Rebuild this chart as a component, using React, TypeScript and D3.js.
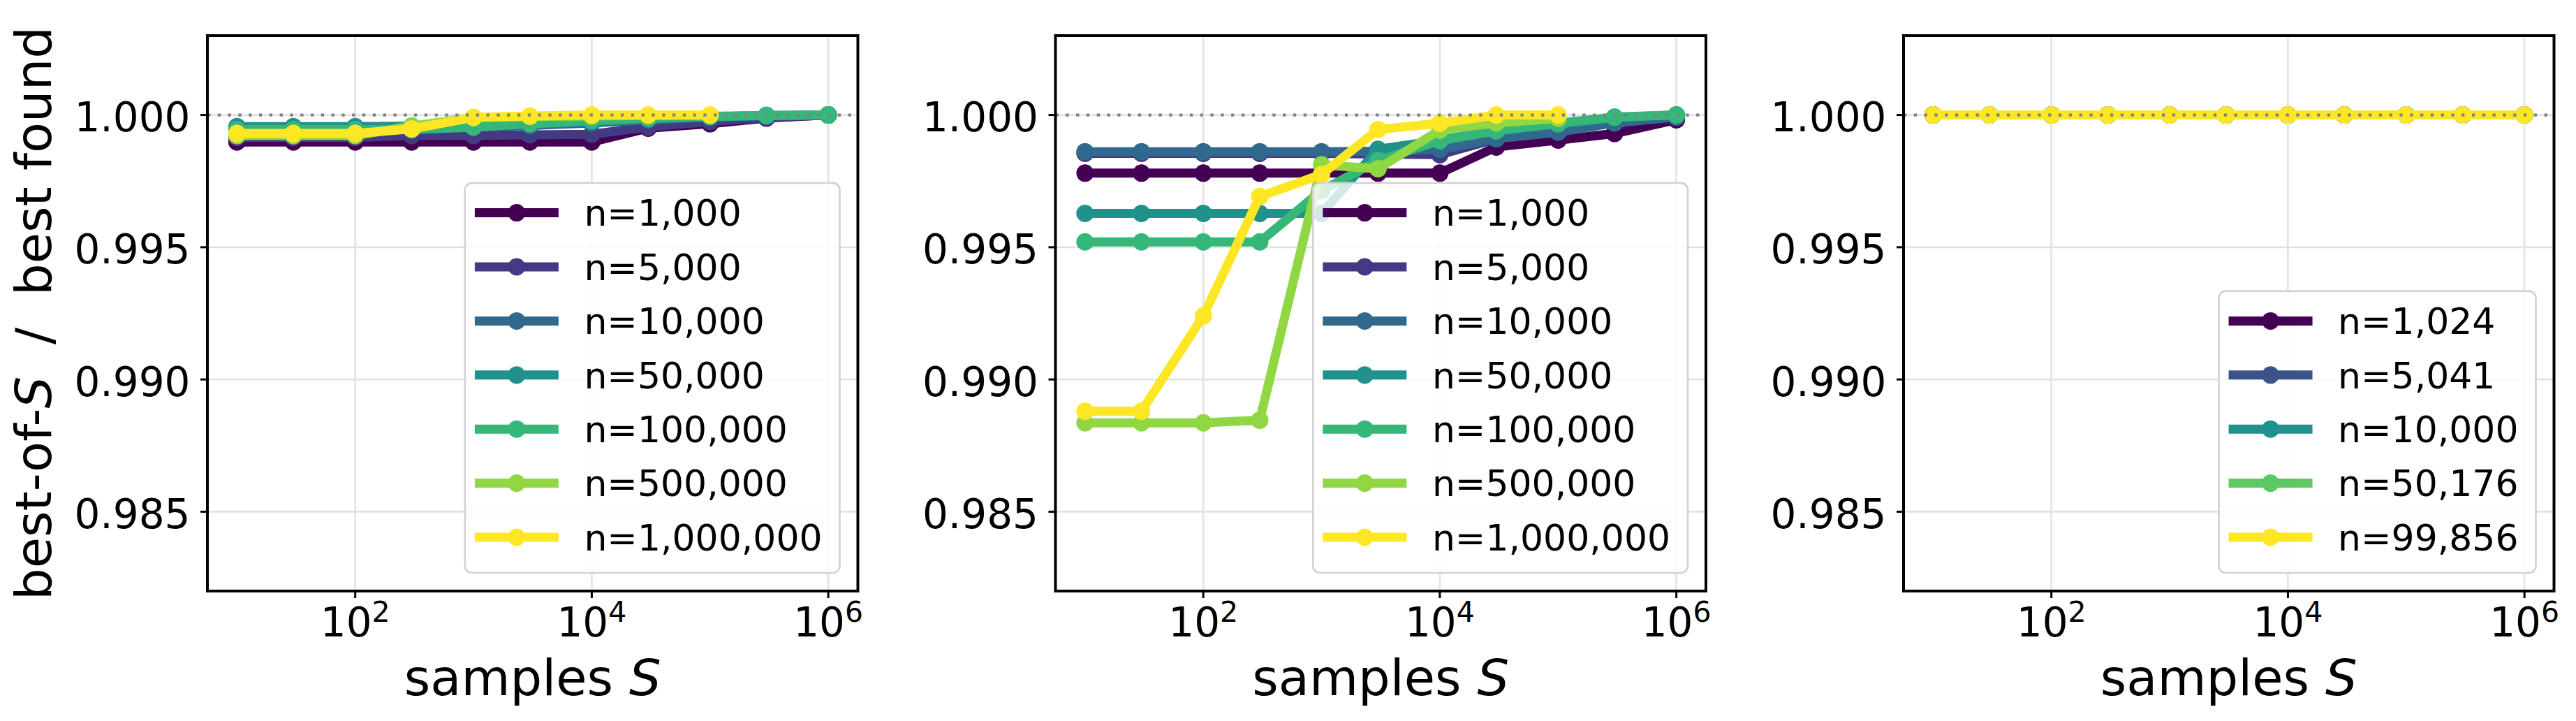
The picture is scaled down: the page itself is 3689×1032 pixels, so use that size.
import React from 'react';
import * as d3 from 'd3';

// ---------------- data ----------------
const SAMPLES = [10, 30, 100, 300, 1000, 3000, 10000, 30000, 100000, 300000, 1000000];
const Y_TICKS = [0.985, 0.99, 0.995, 1.0];
const X_TICK_EXP = [2, 4, 6];
const Y_DOMAIN = [0.982, 1.003];
const X_DOMAIN_LOG = [0.75, 6.25];

const LABELS_A = ['n=1,000', 'n=5,000', 'n=10,000', 'n=50,000', 'n=100,000', 'n=500,000', 'n=1,000,000'];
const LABELS_C = ['n=1,024', 'n=5,041', 'n=10,000', 'n=50,176', 'n=99,856'];

// panel 1
const P1_N1000 = [0.99898, 0.99898, 0.99898, 0.99898, 0.99898, 0.99898, 0.99898, 0.9995, 0.99967, 0.99988, 1.0];
const P1_N5000 = [0.99915, 0.99915, 0.99915, 0.99922, 0.99922, 0.99925, 0.99927, 0.99955, 0.99975, 0.9999, 1.0];
const P1_N10000 = [0.9995, 0.9995, 0.9995, 0.99952, 0.99955, 0.9996, 0.9997, 0.99982, 0.99992, 0.99996, 1.0];
const P1_N50000 = [0.99956, 0.99956, 0.99956, 0.99958, 0.9996, 0.99965, 0.99975, 0.99985, 0.99993, 0.99998, 1.0];
const P1_N100000 = [0.99945, 0.99945, 0.99945, 0.99945, 0.99954, 0.99967, 0.9998, 0.99988, 0.99995, 0.99998, 1.0];
const P1_N500000 = [0.99922, 0.99922, 0.99922, 0.99958, 0.9999, 0.99994, 0.99996, 0.99998, 0.99999];
const P1_N1000000 = [0.9993, 0.9993, 0.9993, 0.99947, 0.99991, 0.99996, 1.0, 1.0, 1.0];

// panel 2
const P2_N1000 = [0.9978, 0.9978, 0.9978, 0.9978, 0.9978, 0.9978, 0.9978, 0.99879, 0.99905, 0.9993, 0.99982];
const P2_N5000 = [0.99855, 0.99855, 0.99855, 0.99855, 0.99855, 0.99852, 0.9985, 0.9991, 0.99945, 0.9997, 0.99995];
const P2_N10000 = [0.99861, 0.99861, 0.99861, 0.99861, 0.99861, 0.99863, 0.9987, 0.9991, 0.99935, 0.9997, 0.99992];
const P2_N50000 = [0.99628, 0.99628, 0.99628, 0.99628, 0.99628, 0.9987, 0.99905, 0.9994, 0.99965, 0.9999, 1.0];
const P2_N100000 = [0.9952, 0.9952, 0.9952, 0.9952, 0.99714, 0.99828, 0.99903, 0.9994, 0.99969, 0.99992, 1.0];
const P2_N500000 = [0.98836, 0.98836, 0.98836, 0.98846, 0.99811, 0.99797, 0.99943, 0.9997, 0.99987];
const P2_N1000000 = [0.9888, 0.9888, 0.9924, 0.99692, 0.99775, 0.99945, 0.99969, 1.0, 1.0];

// panel 3
const P3_N1024 = [1, 1, 1, 1, 1, 1, 1, 1, 1, 1, 1];
const P3_N5041 = [1, 1, 1, 1, 1, 1, 1, 1, 1, 1, 1];
const P3_N10000 = [1, 1, 1, 1, 1, 1, 1, 1, 1, 1, 1];
const P3_N50176 = [1, 1, 1, 1, 1, 1, 1, 1, 1, 1, 1];
const P3_N99856 = [1, 1, 1, 1, 1, 1, 1, 1, 1, 1, 1];

// ---------------- layout ----------------
const W = 3689;
const H = 1032;
const TOP = 51;
const BOTTOM = 846;
const PW = 931.5;
const LEFTS = [297, 1511.5, 2726];
const FONT = "'DejaVu Sans', sans-serif";
const TICK_FS = 58;
const LABEL_FS = 72;
const LEG_FS = 52;
const LW = 13;
const MR = 12.5;

function charW(c: string) {
  if (c === 'n') return 0.634;
  if (c === '=') return 0.838;
  if (c === ',') return 0.318;
  return 0.636;
}
function textW(s: string, fs: number) {
  return Array.from(s).reduce((a, c) => a + charW(c), 0) * fs;
}

type PanelProps = { idx: number; left: number; series: number[][]; labels: string[]; showYLabel: boolean };

function Panel({ idx, left, series, labels, showYLabel }: PanelProps) {
  const x = d3.scaleLog().domain([10 ** X_DOMAIN_LOG[0], 10 ** X_DOMAIN_LOG[1]]).range([left, left + PW]);
  const y = d3.scaleLinear().domain(Y_DOMAIN).range([BOTTOM, TOP]);
  const k = series.length;
  const color = (i: number) => d3.interpolateViridis(k === 1 ? 0 : i / (k - 1));
  const line = d3
    .line<number>()
    .x((_, i) => x(SAMPLES[i]))
    .y((v) => y(v));
  const clipId = `clip${idx}`;

  const maxTW = Math.max(...labels.map((l) => textW(l, LEG_FS)));
  const boxW = 170.5 + maxTW + 25;
  const boxH = 93.8 + (k - 1) * 77.4;
  const boxX = left + PW - 26 - boxW;
  const boxY = BOTTOM - 26 - boxH;
  const cx = left + PW / 2;

  return (
    <g>
      <defs>
        <clipPath id={clipId}>
          <rect x={left} y={TOP} width={PW} height={BOTTOM - TOP} />
        </clipPath>
      </defs>
      {/* grid */}
      <g stroke="#e3e3e3" strokeWidth={2.7}>
        {X_TICK_EXP.map((e) => (
          <line key={'gx' + e} x1={x(10 ** e)} x2={x(10 ** e)} y1={TOP} y2={BOTTOM} />
        ))}
        {Y_TICKS.map((t) => (
          <line key={'gy' + t} x1={left} x2={left + PW} y1={y(t)} y2={y(t)} />
        ))}
      </g>
      {/* series */}
      <g clipPath={`url(#${clipId})`}>
        {series.map((s, i) => (
          <g key={i}>
            <path d={line(s) || ''} fill="none" stroke={color(i)} strokeWidth={LW} strokeLinejoin="round" strokeLinecap="butt" />
            {s.map((v, j) => (
              <circle key={j} cx={x(SAMPLES[j])} cy={y(v)} r={MR} fill={color(i)} />
            ))}
          </g>
        ))}
        <line x1={left} x2={left + PW} y1={y(1)} y2={y(1)} stroke="#808080" strokeWidth={4.3} strokeDasharray="4.3 10.5" />
      </g>
      {/* spines */}
      <rect x={left} y={TOP} width={PW} height={BOTTOM - TOP} fill="none" stroke="#000" strokeWidth={4} />
      {/* y ticks */}
      {Y_TICKS.map((t) => (
        <g key={'yt' + t}>
          <line x1={left - 10} x2={left} y1={y(t)} y2={y(t)} stroke="#000" strokeWidth={3} />
          <text x={left - 24.5} y={y(t) + 23.5} textAnchor="end" fontSize={TICK_FS} fontFamily={FONT}>
            {t.toFixed(3)}
          </text>
        </g>
      ))}
      {/* x ticks */}
      {X_TICK_EXP.map((e) => (
        <g key={'xt' + e}>
          <line x1={x(10 ** e)} x2={x(10 ** e)} y1={BOTTOM} y2={BOTTOM + 10} stroke="#000" strokeWidth={3} />
          <text x={x(10 ** e)} y={911} textAnchor="middle" fontSize={TICK_FS} fontFamily={FONT}>
            10
            <tspan dy={-21} fontSize={41}>
              {e}
            </tspan>
          </text>
        </g>
      ))}
      {/* x label */}
      <text x={cx} y={995} textAnchor="middle" fontSize={LABEL_FS} fontFamily={FONT} style={{ whiteSpace: 'pre' }}>
        {'samples '}
        <tspan fontStyle="italic">S</tspan>
      </text>
      {showYLabel && (
        <text
          transform={`translate(73, ${(TOP + BOTTOM) / 2}) rotate(-90)`}
          textAnchor="middle"
          fontSize={LABEL_FS}
          fontFamily={FONT}
          style={{ whiteSpace: 'pre' }}
        >
          {'best-of-'}
          <tspan fontStyle="italic">S</tspan>
          {'  /  best found'}
        </text>
      )}
      {/* legend */}
      <g>
        <rect x={boxX} y={boxY} width={boxW} height={boxH} rx={10} ry={10} fill="#fff" fillOpacity={0.8} stroke="#d3d3d3" strokeWidth={2.7} />
        {labels.map((l, i) => {
          const ry = boxY + 42.8 + i * 77.4;
          return (
            <g key={l}>
              <line x1={boxX + 14} x2={boxX + 134} y1={ry} y2={ry} stroke={color(i)} strokeWidth={LW} />
              <circle cx={boxX + 74} cy={ry} r={MR} fill={color(i)} />
              <text x={boxX + 170.5} y={ry + 18.8} fontSize={LEG_FS} fontFamily={FONT}>
                {l}
              </text>
            </g>
          );
        })}
      </g>
    </g>
  );
}

export default function App() {
  const panels = [
    { series: [P1_N1000, P1_N5000, P1_N10000, P1_N50000, P1_N100000, P1_N500000, P1_N1000000], labels: LABELS_A },
    { series: [P2_N1000, P2_N5000, P2_N10000, P2_N50000, P2_N100000, P2_N500000, P2_N1000000], labels: LABELS_A },
    { series: [P3_N1024, P3_N5041, P3_N10000, P3_N50176, P3_N99856], labels: LABELS_C },
  ];
  return (
    <svg
      width={W}
      height={H}
      viewBox={`0 0 ${W} ${H}`}
      style={{ position: 'absolute', left: 0, top: 0, background: '#fff' }}
      xmlns="http://www.w3.org/2000/svg"
    >
      <rect x={0} y={0} width={W} height={H} fill="#fff" />
      {panels.map((p, i) => (
        <Panel key={i} idx={i} left={LEFTS[i]} series={p.series} labels={p.labels} showYLabel={i === 0} />
      ))}
    </svg>
  );
}
